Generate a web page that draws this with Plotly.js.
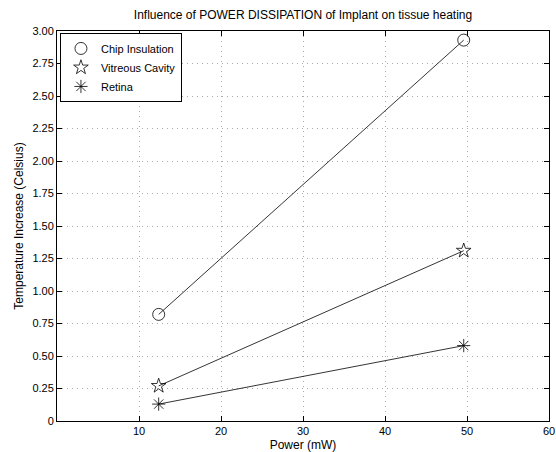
<!DOCTYPE html>
<html><head><meta charset="utf-8">
<script src="https://cdn.plot.ly/plotly-3.0.1.min.js"></script>
<style>html,body{margin:0;padding:0;background:#fff;}#chart{width:556px;height:452px;}</style>
</head><body><div id="chart"></div>
<script>
const power = [12.4, 49.6];
const chipInsulation = [0.82, 2.93];
const vitreousCavity = [0.27, 1.31];
const retina = [0.13, 0.58];
const seriesNames = ["Chip Insulation", "Vitreous Cavity", "Retina"];
const xTickVals = [10, 20, 30, 40, 50, 60];
const yTickVals = [0, 0.25, 0.5, 0.75, 1, 1.25, 1.5, 1.75, 2, 2.25, 2.5, 2.75, 3];
const yTickText = ["0", "0.25", "0.50", "0.75", "1.00", "1.25", "1.50", "1.75", "2.00", "2.25", "2.50", "2.75", "3.00"];

const symbols = ["circle-open", "star-open", "asterisk-open"];
const sizes = [12, 11, 11];
const ys = [chipInsulation, vitreousCavity, retina];
const traces = [];
ys.forEach((y, i) => {
  traces.push({x: power, y: y, mode: 'lines+markers', showlegend: false,
    line: {color: '#000', width: 0.8},
    marker: {symbol: symbols[i], size: sizes[i], color: '#000', line: {color: '#000', width: 0.8}}});
});
ys.forEach((y, i) => {
  traces.push({x: [null], y: [null], mode: 'markers', name: seriesNames[i],
    marker: {symbol: symbols[i], size: sizes[i], color: '#000', line: {color: '#000', width: 0.8}}});
});

const font = {family: 'Liberation Sans, Arial, sans-serif', color: '#000'};
const layout = {
  width: 556, height: 452,
  margin: {l: 57, r: 7, t: 31, b: 31},
  paper_bgcolor: '#fff', plot_bgcolor: '#fff',
  font: Object.assign({size: 11}, font),
  title: {text: 'Influence of POWER DISSIPATION of Implant on tissue heating', font: Object.assign({size: 12}, font), x: 0.545, xanchor: 'center', y: 0.967, yanchor: 'middle'},
  xaxis: {range: [0, 60], tickvals: xTickVals, ticks: 'inside', ticklen: 5, tickcolor: '#000',
    showline: true, linecolor: '#000', linewidth: 1, mirror: 'ticks',
    showgrid: true, gridcolor: '#aaa', griddash: '1px,4px', gridwidth: 1, zeroline: false,
    title: {text: 'Power (mW)', font: Object.assign({size: 12}, font), standoff: 4},
    tickfont: Object.assign({size: 11}, font)},
  yaxis: {range: [0, 3], tickvals: yTickVals, ticktext: yTickText, ticks: 'inside', ticklen: 5, tickcolor: '#000',
    showline: true, linecolor: '#000', linewidth: 1, mirror: 'ticks',
    showgrid: true, gridcolor: '#aaa', griddash: '1px,4px', gridwidth: 1, zeroline: false,
    title: {text: 'Temperature Increase (Celsius)', font: Object.assign({size: 12}, font), standoff: 6},
    tickfont: Object.assign({size: 11}, font)},
  legend: {x: 0.006, y: 0.995, xanchor: 'left', yanchor: 'top', bgcolor: '#fff', bordercolor: '#000', borderwidth: 1,
    font: Object.assign({size: 11}, font), tracegroupgap: 0, itemwidth: 30},
  showlegend: true
};
Plotly.newPlot('chart', traces, layout, {displayModeBar: false, staticPlot: true});
</script></body></html>
